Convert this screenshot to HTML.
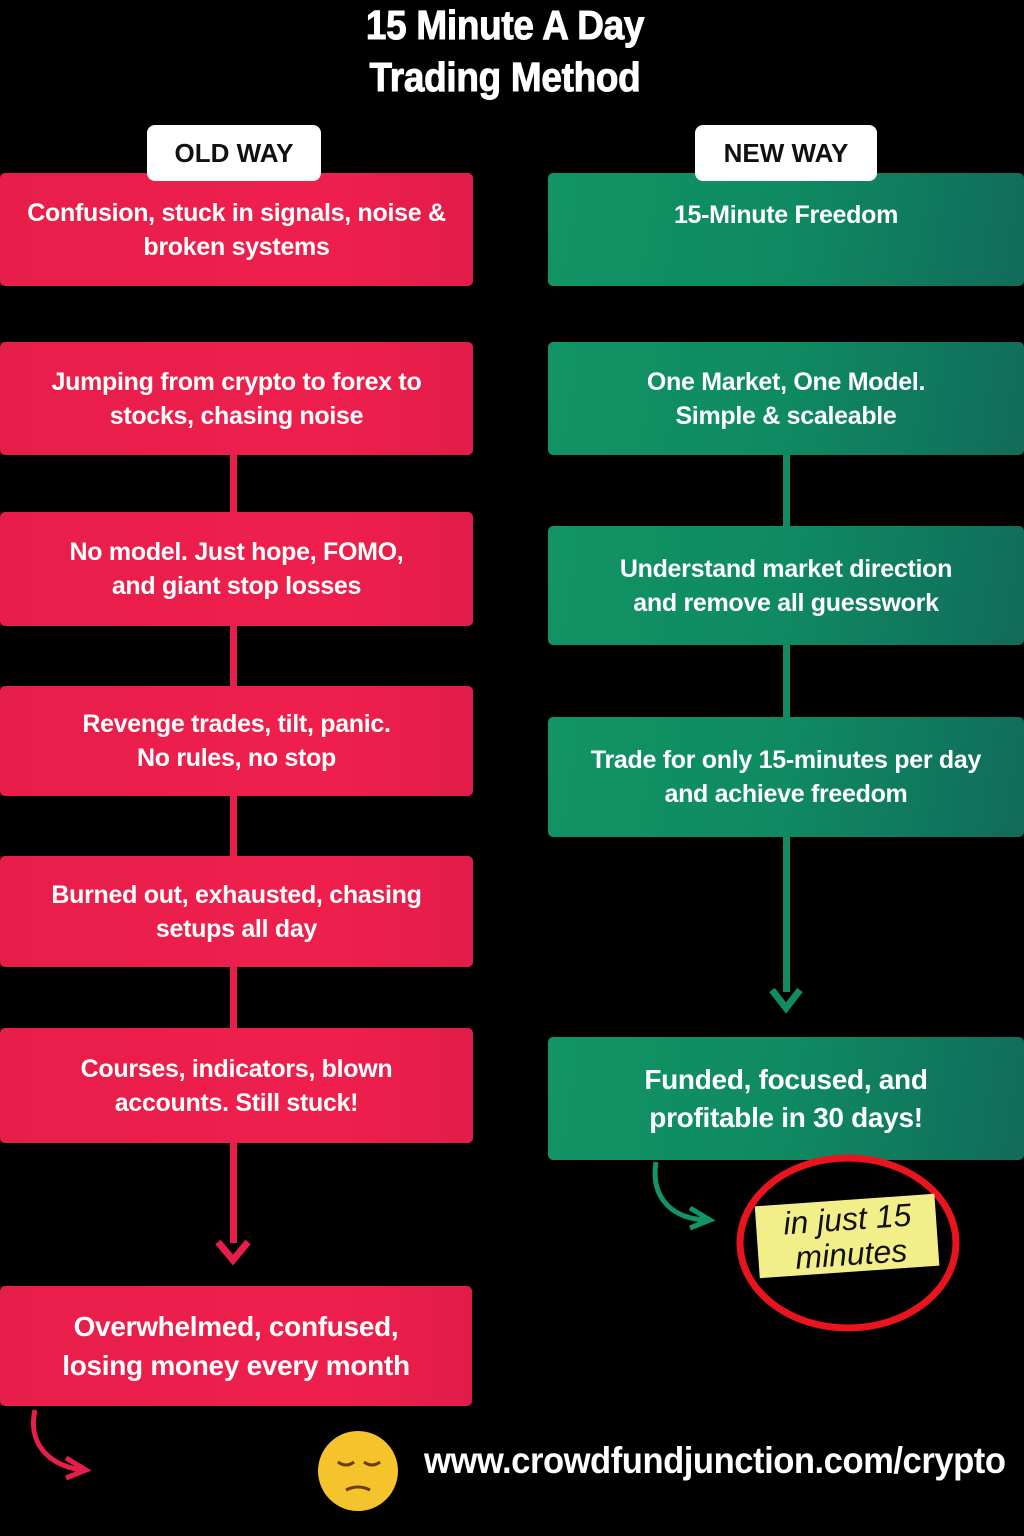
<!DOCTYPE html>
<html><head><meta charset="utf-8"><style>
body{margin:0;width:1024px;height:1536px;background:#000;position:relative;overflow:hidden;font-family:"Liberation Sans",sans-serif;}
.t{position:absolute;left:0;width:1010px;text-align:center;color:#fff;font-weight:bold;font-size:41px;transform:scaleX(0.9);transform-origin:505px 0;letter-spacing:-0.3px;-webkit-text-stroke:1px #fff}
.tag{position:absolute;background:#fff;border-radius:8px;color:#111;font-weight:bold;font-size:26px;text-align:center;line-height:56px;z-index:2}
.b{position:absolute;color:#fff;font-weight:bold;font-size:25px;text-align:center;display:flex;align-items:center;justify-content:center;line-height:34px;border-radius:5px;letter-spacing:-0.3px}
.r{left:0;width:473px;background:linear-gradient(90deg,#e81e4a,#ef1f4d 70%,#e21c48)}
.g{left:548px;width:476px;background:linear-gradient(100deg,#129464,#0f8a62 50%,#116b5a)}
.vl{position:absolute;width:7px}
</style></head><body>
<div class="t" style="top:2px">15 Minute A Day</div>
<div class="t" style="top:54px">Trading Method</div>
<div class="tag" style="left:147px;top:125px;width:174px">OLD WAY</div>
<div class="tag" style="left:695px;top:125px;width:182px">NEW WAY</div>

<div class="b r" style="top:173px;height:113px">Confusion, stuck in signals, noise &amp;<br>broken systems</div>
<div class="b r" style="top:342px;height:113px">Jumping from crypto to forex to<br>stocks, chasing noise</div>
<div class="b r" style="top:512px;height:114px">No model. Just hope, FOMO,<br>and giant stop losses</div>
<div class="b r" style="top:686px;height:110px">Revenge trades, tilt, panic.<br>No rules, no stop</div>
<div class="b r" style="top:856px;height:111px">Burned out, exhausted, chasing<br>setups all day</div>
<div class="b r" style="top:1028px;height:115px">Courses, indicators, blown<br>accounts. Still stuck!</div>
<div class="b r" style="top:1286px;height:120px;width:472px;font-size:28px;line-height:39px">Overwhelmed, confused,<br>losing money every month</div>

<div class="vl" style="left:230px;top:455px;height:57px;background:#e81e4a"></div>
<div class="vl" style="left:230px;top:626px;height:60px;background:#e81e4a"></div>
<div class="vl" style="left:230px;top:796px;height:60px;background:#e81e4a"></div>
<div class="vl" style="left:230px;top:967px;height:61px;background:#e81e4a"></div>
<div class="vl" style="left:230px;top:1143px;height:100px;background:#e81e4a"></div>

<div class="b g" style="top:173px;height:113px;align-items:flex-start"><span style="margin-top:25px">15-Minute Freedom</span></div>
<div class="b g" style="top:342px;height:113px">One Market, One Model.<br>Simple &amp; scaleable</div>
<div class="b g" style="top:526px;height:119px">Understand market direction<br>and remove all guesswork</div>
<div class="b g" style="top:717px;height:120px">Trade for only 15-minutes per day<br>and achieve freedom</div>
<div class="b g" style="top:1037px;height:123px;font-size:28px;line-height:38px">Funded, focused, and<br>profitable in 30 days!</div>

<div class="vl" style="left:783px;top:455px;height:71px;background:#128a62"></div>
<div class="vl" style="left:783px;top:645px;height:72px;background:#128a62"></div>
<div class="vl" style="left:783px;top:837px;height:155px;background:#128a62"></div>

<svg width="1024" height="1536" style="position:absolute;left:0;top:0">
<polyline points="218,1242 233,1260 248,1242" fill="none" stroke="#e81e4a" stroke-width="7"/>
<polyline points="772,990 786,1008 800,990" fill="none" stroke="#128a62" stroke-width="7"/>
<path d="M656,1162 C650,1200 675,1220 708,1220" fill="none" stroke="#129464" stroke-width="5"/>
<polyline points="690,1208 710,1220 690,1228" fill="none" stroke="#129464" stroke-width="5"/>
<path d="M35,1410 C28,1440 45,1465 82,1470" fill="none" stroke="#e81e4a" stroke-width="5"/>
<polyline points="66,1458 86,1470 66,1478" fill="none" stroke="#e81e4a" stroke-width="5"/>
<ellipse cx="848" cy="1243" rx="108" ry="85" fill="none" stroke="#e8141e" stroke-width="7"/>
<g transform="rotate(-4 847 1235)"><rect x="757" y="1200" width="180" height="72" fill="#f2ef8a"/></g>
<text x="848" y="1230" text-anchor="middle" font-family="Liberation Sans, sans-serif" font-style="italic" font-size="32" fill="#111" transform="rotate(-4 848 1230)">in just 15</text>
<text x="852" y="1265" text-anchor="middle" font-family="Liberation Sans, sans-serif" font-style="italic" font-size="32" fill="#111" transform="rotate(-4 852 1265)">minutes</text>
<circle cx="358" cy="1471" r="40" fill="#f5c32c"/>
<path d="M338,1462 q8,6 16,0 M364,1462 q8,6 16,0" fill="none" stroke="#6b3d0a" stroke-width="3"/>
<path d="M346,1490 q12,-6 24,0" fill="none" stroke="#6b3d0a" stroke-width="3"/>
</svg>
<div style="position:absolute;left:424px;top:1440px;color:#fff;font-weight:bold;font-size:37px;letter-spacing:-0.5px;white-space:nowrap;transform:scaleX(0.935);transform-origin:0 0">www.crowdfundjunction.com/crypto</div>
</body></html>
